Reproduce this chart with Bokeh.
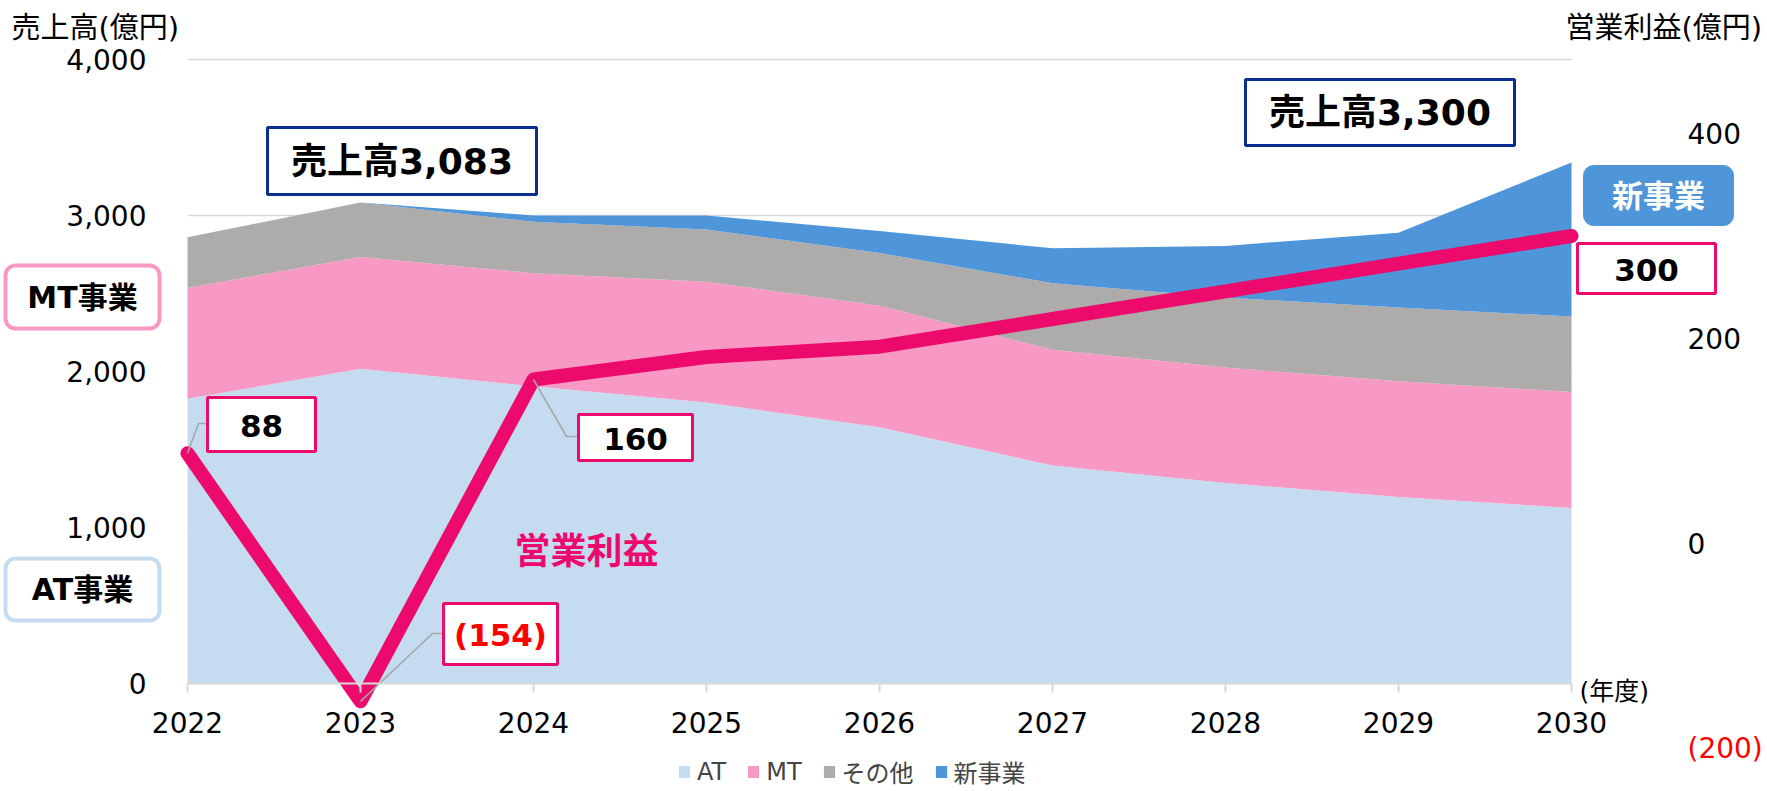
from bokeh.plotting import figure
from bokeh.models import (Range1d, LinearAxis, FixedTicker, NumeralTickFormatter, Label,
                          BoxAnnotation, Legend, LegendItem, ColumnDataSource)
from bokeh.embed import file_html
from bokeh.resources import INLINE

# ---------------- data ----------------
years = [2022, 2023, 2024, 2025, 2026, 2027, 2028, 2029, 2030]
year_labels = ["2022", "2023", "2024", "2025", "2026", "2027", "2028", "2029", "2030"]
at_sales = [1825, 2018, 1905, 1802, 1642, 1398, 1286, 1196, 1125]
mt_sales = [710, 716, 725, 773, 780, 742, 740, 741, 744]
other_sales = [325, 349, 330, 335, 338, 426, 449, 473, 483]
new_sales = [0, 0, 40, 90, 140, 224, 330, 480, 988]
op_profit = [88, -154, 160, 182, 192, 219, 246, 273, 300]
series_names = ["AT", "MT", "その他", "新事業"]
sales_callouts = ["売上高3,083", "売上高3,300"]
left_ticks = [0, 1000, 2000, 3000, 4000]
right_ticks = [-200, 0, 200, 400]

# ---------------- styles ----------------
FONT = "DejaVu Sans, Noto Sans CJK JP"
C_AT, C_MT, C_OT, C_NEW = "#C5DCF0", "#F898C4", "#AEABAB", "#4E95D9"
C_LINE = "#EC0A6C"
C_NAVY = "#0A2E8E"
C_GRID = "#D9D9D9"

W, H = 1767, 791
# plot region in page pixels (the figure frame covers the whole canvas)
FL, FR, FT, FB = 187, 1571, 59, 683
L0, L1 = 0, 4000
PR_ZERO, PR_SCALE = 543, 1.025  # profit axis: pixel of 0, pixels per unit


def X(px):
    return years[0] + (px - FL) * (years[-1] - years[0]) / (FR - FL)


def Y(py):
    return L0 + (FB - py) * (L1 - L0) / (FB - FT)


def P(py):
    return (PR_ZERO - py) / PR_SCALE


def fmt(v):
    return f"{v:,}" if v >= 0 else f"({-v:,})"


p = figure(width=W, height=H, output_backend="svg", toolbar_location=None,
           x_range=Range1d(X(0), X(W)), y_range=Range1d(Y(H), Y(0)),
           min_border_left=0, min_border_right=0, min_border_top=0, min_border_bottom=0,
           x_axis_location=None, y_axis_location=None)
p.outline_line_color = None
p.background_fill_color = "white"
p.border_fill_color = "white"
p.extra_y_ranges = {"profit": Range1d(P(H), P(0))}
p.xgrid.visible = False
p.ygrid.visible = False

# horizontal gridlines over the plot span
p.segment(x0=[years[0]] * len(left_ticks), x1=[years[-1]] * len(left_ticks),
          y0=left_ticks, y1=left_ticks, line_color=C_GRID, line_width=1.5)

src = ColumnDataSource(dict(year=years, at=at_sales, mt=mt_sales, other=other_sales, new=new_sales))
areas = p.varea_stack(stackers=["at", "mt", "other", "new"], x="year",
                      color=[C_AT, C_MT, C_OT, C_NEW], source=src)


def style_axis(ax, size="28px", color="black"):
    ax.major_label_text_font = FONT
    ax.major_label_text_font_size = size
    ax.major_label_text_color = color
    ax.minor_tick_line_color = None


# x axis at value 0
xa = LinearAxis(ticker=FixedTicker(ticks=years), fixed_location=0, bounds=(years[0], years[-1]))
xa.major_label_overrides = {y: l for y, l in zip(years, year_labels)}
xa.axis_line_color = C_GRID
xa.axis_line_width = 2
xa.major_tick_line_color = C_GRID
xa.major_tick_line_width = 2
xa.major_tick_out = 9
xa.major_tick_in = 0
xa.major_label_standoff = 19
style_axis(xa)
p.add_layout(xa, "below")

# left axis (sales)
ya = LinearAxis(ticker=FixedTicker(ticks=left_ticks), fixed_location=years[0],
                formatter=NumeralTickFormatter(format="0,0"))
ya.axis_line_color = None
ya.major_tick_line_color = None
ya.major_tick_out = 0
ya.major_tick_in = 0
ya.major_label_standoff = 41
style_axis(ya)
p.add_layout(ya, "left")

# right axis (operating profit)
ra = LinearAxis(y_range_name="profit", ticker=FixedTicker(ticks=[t for t in right_ticks if t >= 0]),
                fixed_location=years[-1])
ra.axis_line_color = None
ra.major_tick_line_color = None
ra.major_tick_out = 0
ra.major_tick_in = 0
ra.major_label_standoff = 116
style_axis(ra)
p.add_layout(ra, "right")

ra2 = LinearAxis(y_range_name="profit", ticker=FixedTicker(ticks=[t for t in right_ticks if t < 0]),
                 fixed_location=years[-1])
ra2.major_label_overrides = {t: fmt(t) for t in right_ticks if t < 0}
ra2.axis_line_color = None
ra2.major_tick_line_color = None
ra2.major_tick_out = 0
ra2.major_tick_in = 0
ra2.major_label_standoff = 116
style_axis(ra2, color="#FF0000")
p.add_layout(ra2, "right")

# profit line
p.line(years, op_profit, y_range_name="profit", line_color=C_LINE, line_width=14,
       line_cap="round", line_join="round")

# leader lines for labelled profit points
leaders = {0: ((198, 423), (207, 423)), 1: ((432, 633), (443, 633)), 2: ((566, 436), (578, 436))}
for i, (a, b) in leaders.items():
    p.line([years[i], X(a[0]), X(b[0])], [op_profit[i], P(a[1]), P(b[1])],
           y_range_name="profit", line_color="#A6A6A6", line_width=1.5)


def box(l, r, t, b, line_color, line_width=3, fill="white", radius=0):
    p.add_layout(BoxAnnotation(left=X(l), right=X(r), top=Y(t), bottom=Y(b),
                               fill_color=fill, fill_alpha=1, line_color=line_color, line_alpha=1,
                               line_width=line_width, border_radius=radius, level="overlay"))


def label(txt, px, py, size, color="black", bold=True, align="center"):
    p.add_layout(Label(x=X(px), y=Y(py), text=txt, text_font=FONT, text_font_size=size,
                       text_color=color, text_font_style="bold" if bold else "normal",
                       text_align=align, text_baseline="middle", level="overlay"))


# sales callouts
box(267, 536, 127, 194, C_NAVY)
label(sales_callouts[0], 401.5, 161, "36px")
box(1245, 1514, 79, 145, C_NAVY)
label(sales_callouts[1], 1379.5, 112, "36px")

# profit value boxes
pboxes = {0: (207, 315, 397, 451), 1: (443, 557, 603, 664), 2: (578, 692, 414, 460), 8: (1577, 1715, 243, 293)}
for i, (l, r, t, b) in pboxes.items():
    box(l, r, t, b, C_LINE)
    label(fmt(op_profit[i]), (l + r) / 2, (t + b) / 2 + 1, "31px",
          color="#FF0000" if op_profit[i] < 0 else "black")

# segment tags
box(1583, 1733, 165, 225, C_NEW, line_width=1, fill=C_NEW, radius=10)
label(series_names[3], 1658, 195, "31px", color="white")
box(5, 159, 265, 328, C_MT, line_width=4, radius=10)
label(series_names[1] + "事業", 82, 297, "30px")
box(5, 159, 558, 620, C_AT, line_width=4, radius=10)
label(series_names[0] + "事業", 82, 589, "30px")

label("営業利益", 586, 551, "36px", color=C_LINE)

# axis titles / units
label("売上高(億円)", 11, 27, "29px", bold=False, align="left")
label("営業利益(億円)", 1565, 27, "29px", bold=False, align="left")
label("(年度)", 1579, 691, "25px", bold=False, align="left")

legend = Legend(items=[LegendItem(label=n, renderers=[r]) for n, r in zip(series_names, areas)],
                orientation="horizontal", location=(677, 2), border_line_color=None,
                background_fill_alpha=0, padding=0, margin=0, spacing=20,
                glyph_width=14, glyph_height=15, label_standoff=6, label_height=22,
                label_text_font=FONT, label_text_font_size="24px")
p.add_layout(legend)

open("out.html", "w").write(file_html(p, INLINE))
